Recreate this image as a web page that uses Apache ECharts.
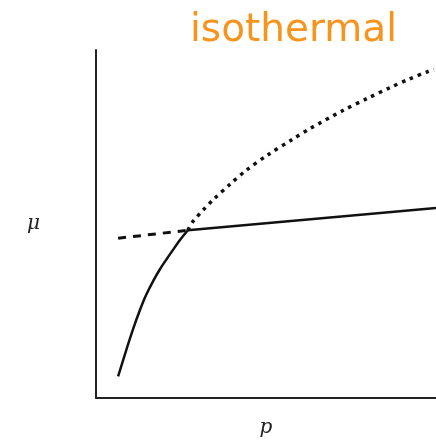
<!DOCTYPE html>
<html>
<head>
<meta charset="utf-8">
<script src="https://cdn.jsdelivr.net/npm/echarts@6/dist/echarts.min.js"></script>
<style>
  html, body { margin: 0; padding: 0; background: #fff; overflow: hidden; }
  #chart { width: 436px; height: 443px; }
</style>
</head>
<body>
<div id="chart"></div>
<script>
// Chemical potential μ against pressure p at fixed temperature.
// Points are [p, μ] in arbitrary units.

// Condensed phase: steep branch at low pressure
const steepBranch = [
  [0.65, 0.62], [0.78, 1.03], [0.91, 1.44], [1.09, 1.98],
  [1.29, 2.52], [1.47, 2.95], [1.68, 3.36], [1.88, 3.70],
  [2.09, 4.01], [2.26, 4.25], [2.47, 4.54], [2.70, 4.82]
];
// Nearly flat branch at high pressure
const flatBranch = [[2.70, 4.82], [10.0, 5.46]];
// Metastable continuation of the flat branch (dashed)
const flatExtension = [[0.65, 4.59], [2.70, 4.82]];
// Metastable continuation of the steep branch (dotted)
const steepExtension = [
  [2.70, 4.82], [2.85, 5.07], [3.15, 5.40], [3.44, 5.69],
  [3.94, 6.14], [4.44, 6.56], [5.06, 6.99], [5.79, 7.44],
  [6.29, 7.74], [7.26, 8.26], [8.00, 8.62], [8.65, 8.92],
  [9.20, 9.16], [9.76, 9.38], [9.94, 9.44]
];

const chart = echarts.init(document.getElementById('chart'));
const axisCommon = {
  type: 'value', min: 0, max: 10,
  axisLine: { show: true, lineStyle: { color: '#222', width: 2 } },
  axisTick: { show: false }, axisLabel: { show: false }, splitLine: { show: false },
  nameTextStyle: { fontFamily: 'DejaVu Serif', fontStyle: 'italic', fontSize: 20, color: '#222' }
};
const lineCommon = { type: 'line', showSymbol: false, smooth: 0.3, animation: false };
chart.setOption({
  animation: false,
  grid: { left: 96, top: 50, width: 340, height: 355 },
  graphic: [{
    type: 'text', left: 190, top: 11,
    style: { text: 'isothermal', fill: '#f7941d', font: '39px "DejaVu Sans"' }
  }],
  xAxis: Object.assign({}, axisCommon, { name: 'p', nameLocation: 'middle', nameGap: 20 }),
  yAxis: Object.assign({}, axisCommon, { name: 'μ', nameLocation: 'middle', nameRotate: 0, nameGap: 56 }),
  series: [
    Object.assign({}, lineCommon, { data: steepBranch, lineStyle: { color: '#111', width: 2.5 } }),
    Object.assign({}, lineCommon, { data: flatBranch, smooth: false, lineStyle: { color: '#111', width: 2.5 } }),
    Object.assign({}, lineCommon, { data: flatExtension, smooth: false, lineStyle: { color: '#111', width: 3, type: [8, 7] } }),
    Object.assign({}, lineCommon, { data: steepExtension, lineStyle: { color: '#111', width: 3.5, type: [3.5, 5] } })
  ]
});
</script>
</body>
</html>
